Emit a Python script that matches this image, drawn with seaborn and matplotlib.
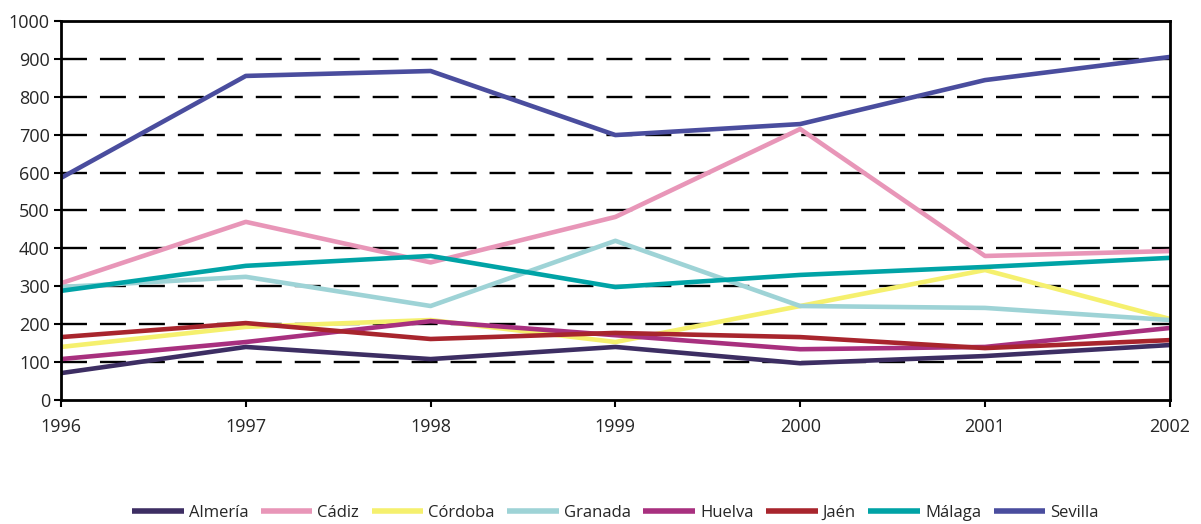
import numpy as np
import pandas as pd
import seaborn as sns
import matplotlib.pyplot as plt

# values
years = [1996, 1997, 1998, 1999, 2000, 2001, 2002]
provinces = ['Almería', 'Cádiz', 'Córdoba', 'Granada', 'Huelva', 'Jaén', 'Málaga', 'Sevilla']

almeria = [71, 140, 108, 140, 97, 116, 145]
cadiz = [308, 470, 363, 483, 715, 380, 393]
cordoba = [140, 193, 211, 153, 248, 343, 214]
granada = [298, 325, 248, 420, 248, 243, 211]
huelva = [108, 153, 208, 171, 134, 140, 190]
jaen = [166, 203, 161, 177, 166, 137, 158]
malaga = [288, 354, 380, 298, 330, 351, 375]
sevilla = [586, 855, 868, 699, 728, 844, 905]

colors = ['#3d2e63', '#e896b8', '#f5f06e', '#9ed3d6',
          '#a8307f', '#a8252d', '#00a3a6', '#4a4d9e']

series = [almeria, cadiz, cordoba, granada, huelva, jaen, malaga, sevilla]
rows = []
for name, vals in zip(provinces, series):
    for y, v in zip(years, vals):
        rows.append({'Año': y, 'Valor': v, 'Provincia': name})
df = pd.DataFrame(rows)

sns.set_style('white')
plt.rcParams['font.family'] = ['Open Sans', 'DejaVu Sans']

fig = plt.figure(figsize=(12.01, 5.24), dpi=100)
ax = fig.add_axes([0.0508, 0.2366, 0.9232, 0.7234])

sns.lineplot(data=df, x='Año', y='Valor', hue='Provincia', hue_order=provinces,
             palette=colors, linewidth=3.3, ax=ax, legend=True)

ax.set_xlim(1996, 2002)
ax.set_ylim(0, 1000)
ax.set_xticks(years)
ax.set_yticks(range(0, 1001, 100))
ax.set_xlabel('')
ax.set_ylabel('')

# dashed black gridlines (not at 0 or 1000)
for v in range(100, 1000, 100):
    ax.axhline(v, color='black', linestyle=(0, (11, 5.5)), linewidth=1.7, zorder=0)

for s in ax.spines.values():
    s.set_visible(True)
    s.set_color('black')
    s.set_linewidth(2)

ax.tick_params(axis='both', which='both', direction='out', length=5, width=1.5,
               color='black', labelsize=13, pad=3)
ax.tick_params(axis='y', left=True)
ax.tick_params(axis='x', bottom=True, pad=8)

handles, labels = ax.get_legend_handles_labels()
ax.legend(handles, labels, loc='center', bbox_to_anchor=(0.5, -0.298), ncol=8,
          frameon=False, handlelength=3.1, handletextpad=0.3, columnspacing=0.75,
          prop={'size': 12})
for line in ax.get_legend().get_lines():
    line.set_linewidth(4)
    line.set_solid_capstyle('butt')

fig.savefig('out.png', dpi=100)
